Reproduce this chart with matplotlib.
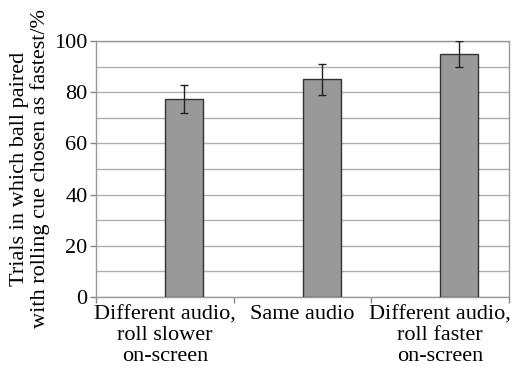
import matplotlib
matplotlib.use("Agg")
import matplotlib.pyplot as plt
import numpy as np

categories = ["Different audio,\nroll slower\non-screen", "Same audio", "Different audio,\nroll faster\non-screen"]
values = [77.5, 85.0, 95.0]
errors = [5.5, 6.0, 5.0]
yticks = [0, 20, 40, 60, 80, 100]

plt.rcParams['font.family'] = ['Liberation Serif', 'DejaVu Serif']

fig = plt.figure(figsize=(5.11, 3.67), dpi=100)
ax = fig.add_axes([96/511, 1-297/367, 413/511, 256/367])

x = np.arange(len(categories))
bw = 0.277
ax.bar(x + bw/2, values, width=bw, color='#999999', edgecolor='#333333', linewidth=1.0, zorder=3)
ax.errorbar(x + bw/2, values, yerr=errors, fmt='none', ecolor='#222222', elinewidth=1.0, capsize=3, capthick=1.0, zorder=4)

ax.set_xlim(-0.5, len(categories) - 0.5)
ax.set_ylim(0, 100)
ax.set_yticks(yticks)
ax.set_yticks(np.arange(0, 101, 10), minor=True)
ax.yaxis.grid(True, which='both', color='#b0b0b0', linewidth=1.0, zorder=0)
ax.set_axisbelow(True)

ax.set_xticks(x)
ax.set_xticklabels(categories, fontsize=16, linespacing=1.12)
ax.set_xticks(np.arange(-0.5, len(categories)), minor=True)
ax.tick_params(axis='x', which='major', length=0, pad=6)
ax.tick_params(axis='x', which='minor', length=4, color='#888888', width=1)
ax.tick_params(axis='y', which='major', labelsize=16, length=4, color='#888888', width=1, pad=2)
ax.tick_params(axis='y', which='minor', length=0)

for s in ax.spines.values():
    s.set_color('#999999')
    s.set_linewidth(1.0)

ax.set_ylabel("Trials in which ball paired\nwith rolling cue chosen as fastest/%", fontsize=16, linespacing=1.05, labelpad=3)

fig.savefig("out.png", dpi=100)
